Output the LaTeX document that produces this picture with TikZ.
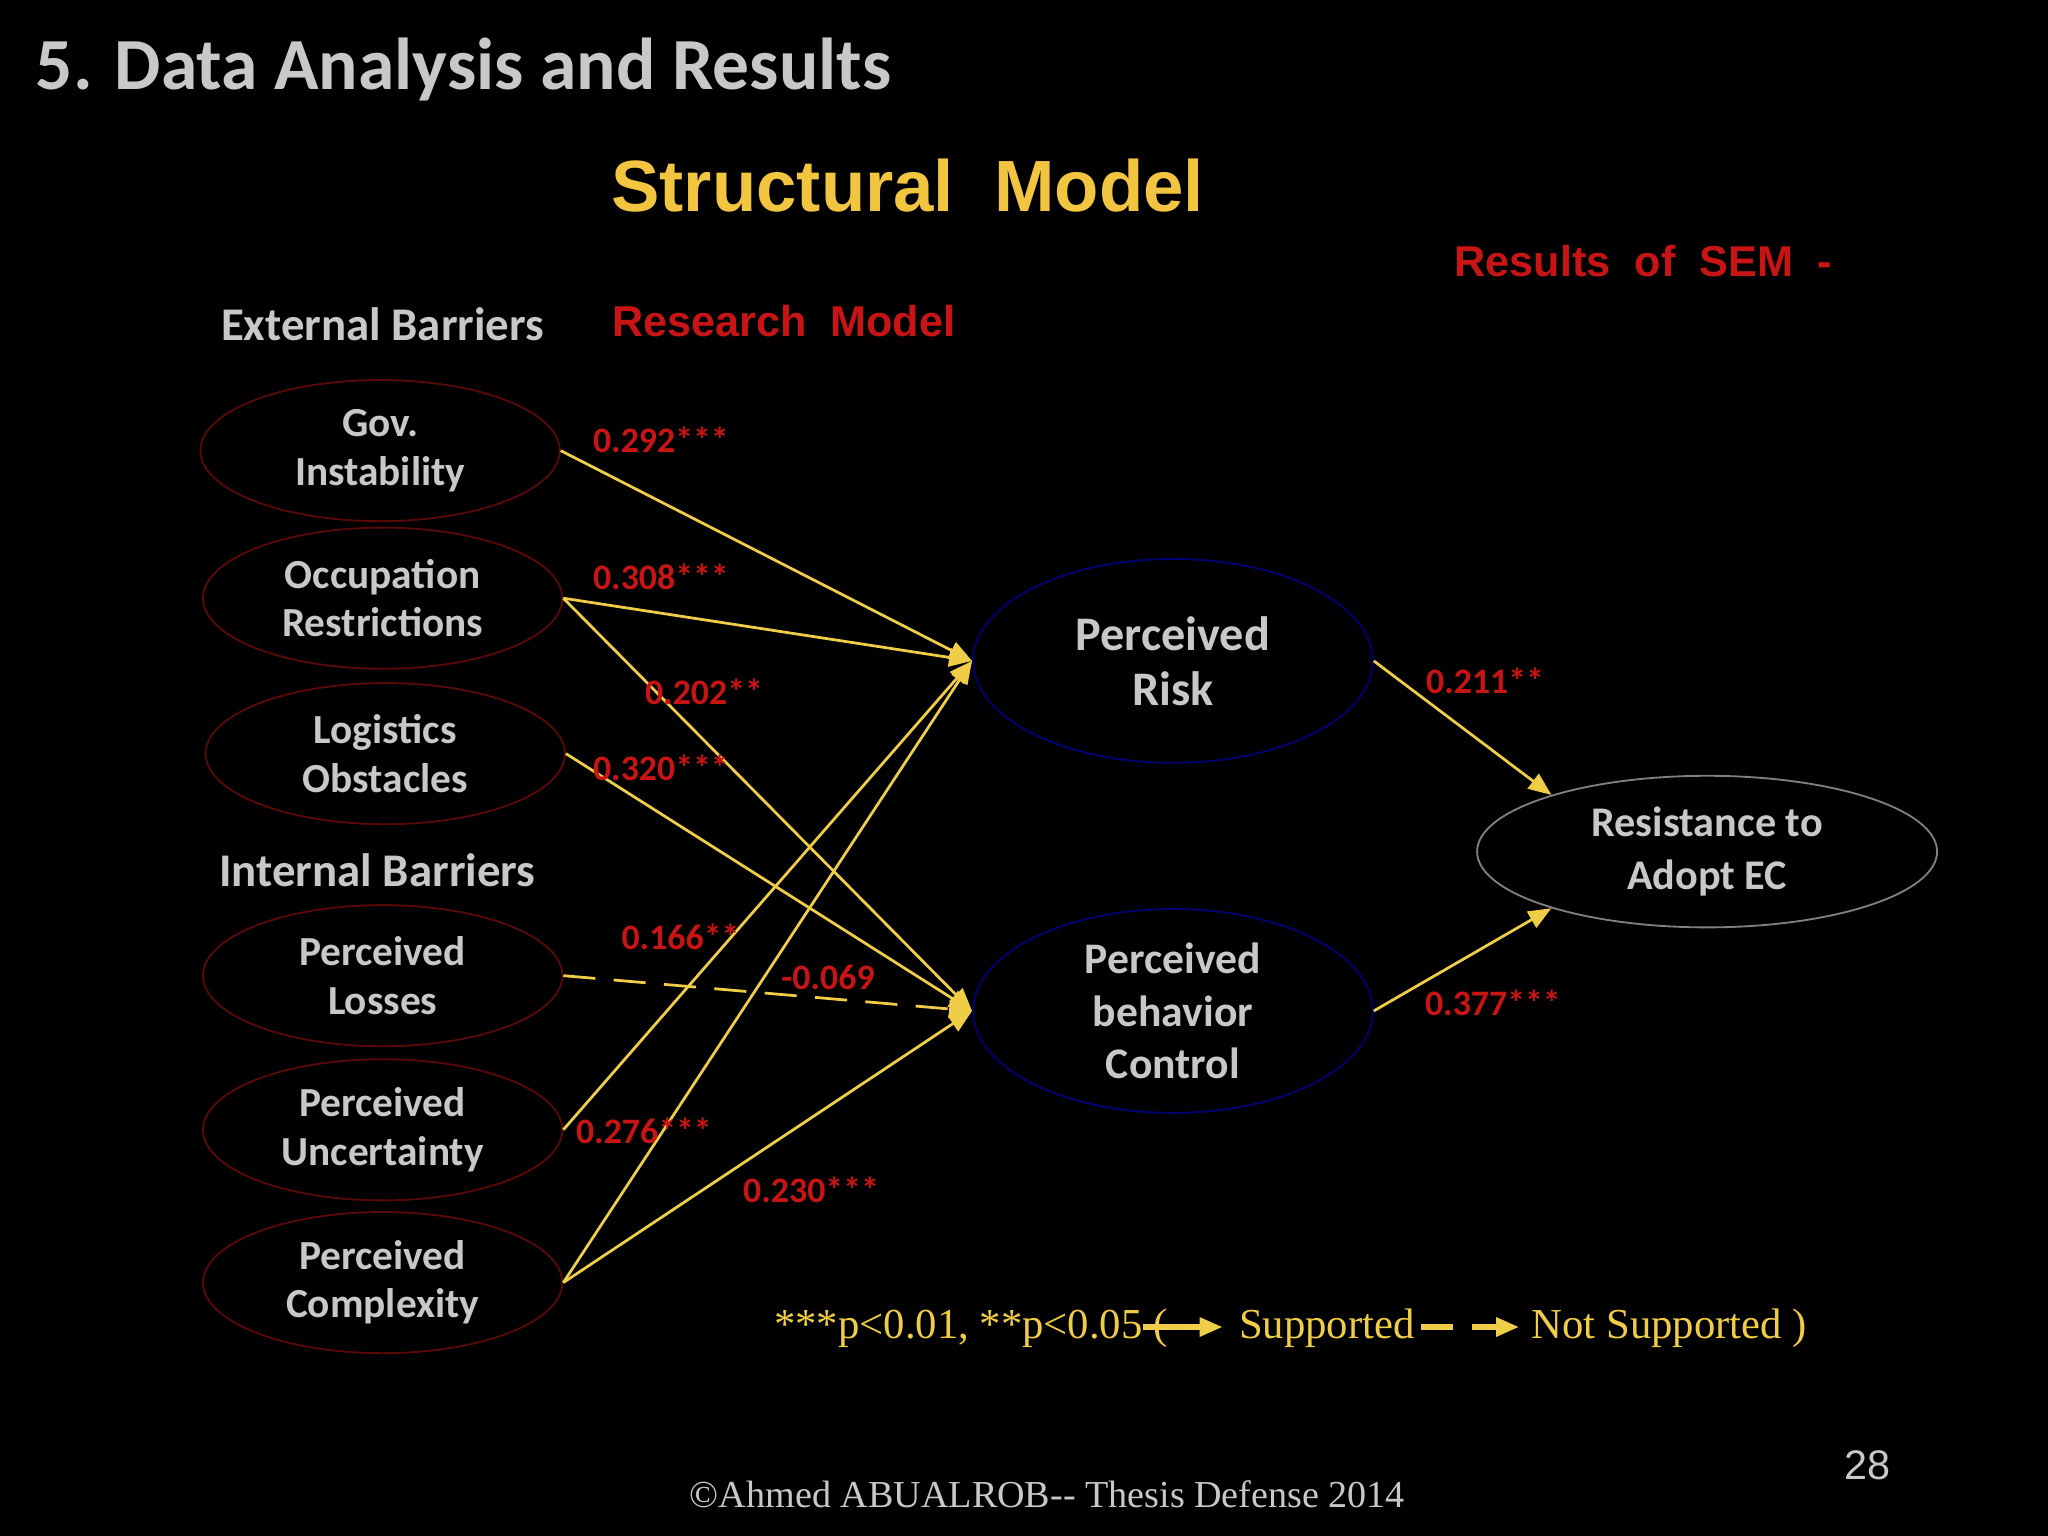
\documentclass[tikz,border=0pt]{standalone}
\usepackage{fontspec}
\setmainfont{Carlito}
\newfontfamily\arialf{Liberation Sans}
\newfontfamily\timesf{Liberation Serif}
\usetikzlibrary{shapes.geometric,arrows.meta}
\definecolor{pathyel}{RGB}{240,205,70}
\definecolor{coefred}{RGB}{200,20,20}
\definecolor{txtgrey}{RGB}{200,200,200}
\tikzset{
  barrier/.style={ellipse,draw=coefred!45!black,inner sep=0pt,minimum width=2.75cm,minimum height=1.08cm,align=center,text=txtgrey,font=\bfseries\fontsize{9}{10.5}\selectfont},
  mediator/.style={ellipse,draw=blue!45!black,inner sep=0pt,minimum width=3.06cm,minimum height=1.56cm,align=center,text=txtgrey,font=\bfseries\fontsize{10.5}{12}\selectfont},
  path/.style={draw=pathyel,line width=0.6pt,-{Triangle[length=5pt,width=4pt]}},
  coef/.style={text=coefred,font=\bfseries\fontsize{7.8}{9}\selectfont},
  group/.style={text=txtgrey,font=\bfseries\fontsize{10.2}{12}\selectfont},
  legend/.style={anchor=west,inner sep=0pt,text=pathyel,font=\timesf\fontsize{9.3}{11}\selectfont}
}
\begin{document}
\begin{tikzpicture}[x=0.01cm,y=-0.01cm]
\fill[black] (0,0) rectangle (1568,1176);
\node[anchor=west,text=txtgrey,font=\bfseries\fontsize{16}{19}\selectfont] (title) at (15,53) {5. Data Analysis and Results};
\node[text=pathyel!90!orange,font=\arialf\bfseries\fontsize{15.8}{19}\selectfont] (struct) at (695,142) {Structural~~Model};
\node[text=coefred,font=\arialf\bfseries\fontsize{9.4}{12}\selectfont] (res1) at (1258,200) {Results~~of~~SEM~~-};
\node[text=coefred,font=\arialf\bfseries\fontsize{9.4}{12}\selectfont] (res2) at (600,246) {Research~~Model};
\node[group] (ext) at (293,248) {External Barriers};
\node[group] (int) at (289,666) {Internal Barriers};
% barriers
\node[barrier] (gov) at (291,345) {Gov.\\Instability};
\node[barrier] (occ) at (293,458) {Occupation\\Restrictions};
\node[barrier] (log) at (295,577) {Logistics\\Obstacles};
\node[barrier] (los) at (293,747) {Perceived\\Losses};
\node[barrier] (unc) at (293,865) {Perceived\\Uncertainty};
\node[barrier] (cpx) at (293,982) {Perceived\\Complexity};
% mediators and outcome
\node[mediator] (risk) at (898,506) {Perceived\\Risk};
\node[mediator,font=\bfseries\fontsize{9.5}{11.5}\selectfont] (pbc) at (898,774) {Perceived\\behavior\\Control};
\node[ellipse,draw=gray,inner sep=0pt,minimum width=3.52cm,minimum height=1.16cm,align=center,text=txtgrey,font=\bfseries\fontsize{9.2}{11.5}\selectfont] (resist) at (1307,652) {Resistance to\\Adopt EC};
% paths
\draw[path] (gov.east) -- (risk.west);
\draw[path] (occ.east) -- (risk.west);
\draw[path] (occ.east) -- (pbc.west);
\draw[path] (log.east) -- (pbc.west);
\draw[path,dashed,dash pattern=on 7pt off 4pt] (los.east) -- (pbc.west);
\draw[path] (unc.east) -- (risk.west);
\draw[path] (cpx.east) -- (risk.west);
\draw[path] (cpx.east) -- (pbc.west);
\draw[path] (risk.east) -- (resist.160);
\draw[path] (pbc.east) -- (resist.200);
% coefficients
\node[coef] (c1) at (506,337) {0.292***};
\node[coef] (c2) at (506,442) {0.308***};
\node[coef] (c3) at (539,530) {0.202**};
\node[coef] (c4) at (506,588) {0.320***};
\node[coef] (c5) at (521,717) {0.166**};
\node[coef] (c6) at (634,748) {-0.069};
\node[coef] (c7) at (493,866) {0.276***};
\node[coef] (c8) at (621,911) {0.230***};
\node[coef] (c9) at (1137,521) {0.211**};
\node[coef] (c10) at (1143,768) {0.377***};
% legend
\node[legend] (leg1) at (592,1017) {***p<0.01, **p<0.05 (};
\coordinate (la) at (875,1016);
\coordinate (lb) at (936,1016);
\draw[path,line width=1.1pt] (la) -- (lb);
\node[legend] (leg2) at (948,1017) {Supported};
\coordinate (lc) at (1088,1016);
\coordinate (ld) at (1163,1016);
\draw[path,line width=1.1pt,dashed,dash pattern=on 7pt off 4pt] (lc) -- (ld);
\node[legend] (leg3) at (1172,1017) {Not Supported )};
\node[text=txtgrey,font=\timesf\fontsize{8.3}{10}\selectfont] (foot) at (802,1144) {\textcopyright Ahmed ABUALROB-- Thesis Defense 2014};
\node[text=txtgrey,font=\arialf\fontsize{9}{11}\selectfont] (page) at (1430,1122) {28};
\end{tikzpicture}
\end{document}
